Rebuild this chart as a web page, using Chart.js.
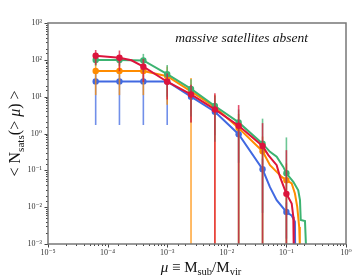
<!DOCTYPE html>
<html>
<head>
<meta charset="utf-8">
<script src="https://cdn.jsdelivr.net/npm/chart.js@4.4.0/dist/chart.umd.min.js"></script>
<style>
html, body { margin: 0; padding: 0; background: #fff; }
</style>
</head>
<body>
<canvas id="myChart" width="361" height="277"></canvas>
<script>
// marker positions (mu) shared by all four series
const muMarks = [6.31e-5, 1.58e-4, 3.98e-4, 1.0e-3, 2.51e-3, 6.31e-3, 1.58e-2, 3.98e-2, 0.1];

const redN    = [129, 114, 65, 25.4, 11.5, 4.5, 1.62, 0.46, 0.023];
const greenN  = [99, 99, 96, 41, 16.2, 5.6, 2.0, 0.53, 0.083];
const orangeN = [50, 50, 50, 36, 14, 5.2, 1.4, 0.33, 0.054];
const blueN   = [26, 26, 26, 26, 10, 3.9, 0.96, 0.107, 0.0074];

const redErr    = [56, 65, 40, 17, 9.5, 7.8, 4.3, 1.45, 0.33];
const greenErr  = [30, 30, 49, 31, 13.3, 5, 2.5, 2.0, 0.7];
const orangeErr = [39, 39, 39, 30, 18, 6, 2, 0.5, 0.1];
const blueErr   = [24.3, 24.3, 24.3, 24.3, 8, 3, 0.8, 0.1, 0.006];

// cumulative curves
const redCurveMu = [6.31e-5, 1.58e-4, 2.51e-4, 3.98e-4, 1e-3, 2.51e-3, 6.31e-3, 1.58e-2, 3.98e-2, 0.0497, 0.0687, 0.0781, 0.1, 0.1227, 0.1306, 0.1327];
const redCurveN  = [129, 114, 97, 65, 25.4, 11.5, 4.5, 1.62, 0.46, 0.259, 0.138, 0.0665, 0.023, 0.0126, 0.0055, 0.0009];

const greenCurveMu = [6.31e-5, 1.58e-4, 3.98e-4, 1e-3, 2.51e-3, 6.31e-3, 1.58e-2, 3.98e-2, 0.0531, 0.0687, 0.0887, 0.1, 0.1306, 0.158, 0.169, 0.174, 0.205, 0.213];
const greenCurveN  = [99, 99, 96, 41, 16.2, 5.6, 2.0, 0.53, 0.318, 0.233, 0.124, 0.083, 0.049, 0.0288, 0.0155, 0.0045, 0.0042, 0.0009];

const orangeCurveMu = [6.31e-5, 1.58e-4, 3.98e-4, 1e-3, 2.51e-3, 6.31e-3, 1.58e-2, 3.98e-2, 0.0531, 0.0687, 0.0834, 0.1, 0.1227, 0.139, 0.152, 0.164, 0.168];
const orangeCurveN  = [50, 50, 50, 36, 14, 5.2, 1.4, 0.33, 0.138, 0.091, 0.0665, 0.054, 0.044, 0.0234, 0.0102, 0.0029, 0.0009];

const blueCurveMu = [6.31e-5, 1.58e-4, 3.98e-4, 1e-3, 2.51e-3, 6.31e-3, 1.58e-2, 3.98e-2, 0.053, 0.0687, 0.1, 0.122, 0.139, 0.14];
const blueCurveN  = [26, 26, 26, 26, 10, 3.9, 0.96, 0.107, 0.035, 0.0155, 0.0074, 0.006, 0.004, 0.0009];

const xTickLabels = ['10⁻⁵', '10⁻⁴', '10⁻³', '10⁻²', '10⁻¹', '10⁰'];
const yTickLabels = ['10⁻³', '10⁻²', '10⁻¹', '10⁰', '10¹', '10²', '10³'];

const panelText = 'massive satellites absent';

const serif = '"Liberation Serif", "DejaVu Serif", serif';
const red = 'rgb(220,20,60)', green = 'rgb(60,179,113)', orange = 'rgb(255,140,0)', blue = 'rgb(65,105,225)';

function pts(mu, n) { return mu.map((m, i) => ({ x: m, y: n[i] })); }
function isDecade(v) { const e = Math.log10(v); return Math.abs(e - Math.round(e)) < 1e-6; }

function markers(n, err, col) {
    return { data: pts(muMarks, n), err: err, errColor: col.replace('rgb', 'rgba').replace(')', ',0.75)'),
             showLine: false, pointRadius: 3.2, pointHoverRadius: 3.2, backgroundColor: col, borderColor: col, borderWidth: 0 };
}
function line(mu, n, col) {
    return { data: pts(mu, n), showLine: true, pointRadius: 0, borderColor: col, borderWidth: 2, tension: 0 };
}

// vertical error bars, drawn right before each marker dataset
const errorBars = {
    id: 'errorBars',
    beforeDatasetDraw(chart, args) {
        const ds = chart.data.datasets[args.index];
        if (!ds.err) return;
        const { ctx, chartArea, scales: { x, y } } = chart;
        ctx.save();
        ctx.beginPath();
        ctx.rect(chartArea.left, chartArea.top, chartArea.width, chartArea.height);
        ctx.clip();
        ctx.strokeStyle = ds.errColor;
        ctx.lineWidth = 1.6;
        ds.data.forEach((p, i) => {
            const px = x.getPixelForValue(p.x);
            const lo = p.y - ds.err[i];
            const top = y.getPixelForValue(p.y + ds.err[i]);
            const bot = lo > 0 ? y.getPixelForValue(lo) : chartArea.bottom;
            ctx.beginPath();
            ctx.moveTo(px, top);
            ctx.lineTo(px, bot);
            ctx.stroke();
        });
        ctx.restore();
    }
};

function drawRich(ctx, parts, x, y, size) {
    const fontOf = p => (p.it ? 'italic ' : '') + (p.sub ? size * 0.7 : size) + 'px ' + serif;
    let w = 0;
    parts.forEach(p => { ctx.font = fontOf(p); w += ctx.measureText(p.t).width; });
    let cx = x - w / 2;
    ctx.textAlign = 'left';
    ctx.textBaseline = 'alphabetic';
    parts.forEach(p => {
        ctx.font = fontOf(p);
        ctx.fillText(p.t, cx, y + (p.sub ? size * 0.22 : 0));
        cx += ctx.measureText(p.t).width;
    });
}

const frameAndLabels = {
    id: 'frameAndLabels',
    afterDraw(chart) {
        const { ctx, chartArea: a, scales: { x, y } } = chart;
        ctx.save();
        ctx.strokeStyle = '#444';
        ctx.lineWidth = 1;
        x.ticks.forEach(t => {
            const px = Math.round(x.getPixelForValue(t.value)) + 0.5;
            const len = isDecade(t.value) ? 3.5 : 2;
            ctx.beginPath(); ctx.moveTo(px, a.bottom); ctx.lineTo(px, a.bottom + len); ctx.stroke();
        });
        y.ticks.forEach(t => {
            const py = Math.round(y.getPixelForValue(t.value)) + 0.5;
            const len = isDecade(t.value) ? 3.5 : 2;
            ctx.beginPath(); ctx.moveTo(a.left, py); ctx.lineTo(a.left - len, py); ctx.stroke();
        });
        ctx.strokeStyle = '#777';
        ctx.lineWidth = 1.5;
        ctx.strokeRect(a.left, a.top, a.right - a.left, a.bottom - a.top);

        ctx.fillStyle = '#111';
        ctx.font = 'italic 13.5px ' + serif;
        ctx.textAlign = 'right';
        ctx.textBaseline = 'alphabetic';
        ctx.fillText(panelText, 308, 42);

        drawRich(ctx, [{ t: 'μ', it: true }, { t: ' ≡ M' }, { t: 'sub', sub: true }, { t: '/M' }, { t: 'vir', sub: true }],
                 (a.left + a.right) / 2 + 4, 272, 15);
        ctx.translate(20, (a.top + a.bottom) / 2);
        ctx.rotate(-Math.PI / 2);
        drawRich(ctx, [{ t: '< N' }, { t: 'sats', sub: true }, { t: '(> ' }, { t: 'μ', it: true }, { t: ') >' }], 0, 0, 16);
        ctx.restore();
    }
};

const ctx = document.getElementById('myChart').getContext('2d');

const config = {
    type: 'scatter',
    data: {
        datasets: [
            markers(redN, redErr, red),
            line(redCurveMu, redCurveN, red),
            markers(greenN, greenErr, green),
            line(greenCurveMu, greenCurveN, green),
            markers(orangeN, orangeErr, orange),
            line(orangeCurveMu, orangeCurveN, orange),
            markers(blueN, blueErr, blue),
            line(blueCurveMu, blueCurveN, blue)
        ]
    },
    options: {
        responsive: false,
        animation: false,
        layout: { padding: { top: 23, right: 15, left: 0, bottom: 0 } },
        plugins: { legend: { display: false }, tooltip: { enabled: false } },
        scales: {
            x: {
                type: 'logarithmic', min: 1e-5, max: 1,
                afterFit: s => { s.height = 33; },
                grid: { display: false, drawTicks: false },
                border: { display: false },
                ticks: {
                    autoSkip: false, maxRotation: 0, padding: 4, color: '#333',
                    font: { family: serif, size: 8 },
                    callback: v => isDecade(v) ? xTickLabels[Math.round(Math.log10(v)) + 5] : ''
                }
            },
            y: {
                type: 'logarithmic', min: 1e-3, max: 1e3,
                afterFit: s => { s.width = 48; },
                grid: { display: false, drawTicks: false },
                border: { display: false },
                ticks: {
                    autoSkip: false, padding: 6, color: '#333',
                    font: { family: serif, size: 8 },
                    callback: v => isDecade(v) ? yTickLabels[Math.round(Math.log10(v)) + 3] : ''
                }
            }
        }
    },
    plugins: [errorBars, frameAndLabels]
};

const myChart = new Chart(ctx, config);
</script>
</body>
</html>
